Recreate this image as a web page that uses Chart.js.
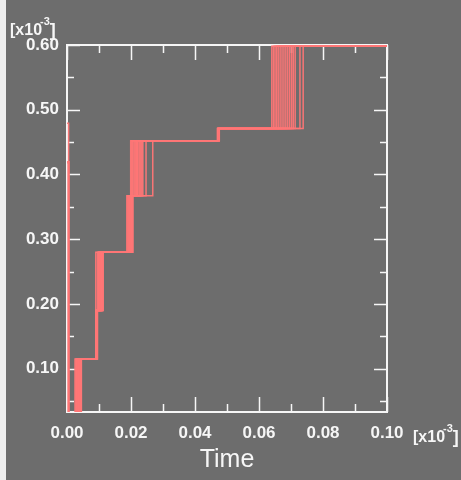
<!DOCTYPE html>
<html>
<head>
<meta charset="utf-8">
<script src="https://cdn.jsdelivr.net/npm/chart.js@4/dist/chart.umd.min.js"></script>
<style>
  html, body { margin: 0; padding: 0; background: #6d6d6d; }
  #wrap { width: 461px; height: 480px; position: relative; }
</style>
</head>
<body>
<div id="wrap"><canvas id="myChart"></canvas></div>
<script>
// step levels (x1e-3) and the times each trace steps up to the next level
let levels = [0.02, 0.115, 0.19, 0.28, 0.367, 0.452, 0.471, 0.598];
let jumpTimes = [
  [0.0025, 0.0090, 0.0090, 0.0187, 0.0199, 0.0470, 0.0640],
  [0.0030, 0.0090, 0.0098, 0.0190, 0.0205, 0.0471, 0.0645],
  [0.0033, 0.0091, 0.0103, 0.0193, 0.0212, 0.0472, 0.0650],
  [0.0036, 0.0092, 0.0107, 0.0196, 0.0218, 0.0473, 0.0655],
  [0.0040, 0.0093, 0.0110, 0.0199, 0.0225, 0.0474, 0.0660],
  [0.0043, 0.0094, 0.0113, 0.0202, 0.0231, 0.0475, 0.0666],
  [0.0045, 0.0095, 0.0111, 0.0205, 0.0237, 0.0476, 0.0672],
  [0.0028, 0.0090, 0.0095, 0.0200, 0.0247, 0.0472, 0.0678],
  [0.0038, 0.0092, 0.0100, 0.0195, 0.0268, 0.0474, 0.0684],
  [0.0042, 0.0093, 0.0105, 0.0206, 0.0215, 0.0471, 0.0690],
  [0.0035, 0.0091, 0.0108, 0.0198, 0.0228, 0.0473, 0.0696],
  [0.0031, 0.0094, 0.0102, 0.0203, 0.0221, 0.0475, 0.0702],
  [0.0034, 0.0092, 0.0106, 0.0201, 0.0209, 0.0472, 0.0707],
  [0.0039, 0.0093, 0.0109, 0.0204, 0.0234, 0.0474, 0.0713],
  [0.0044, 0.0095, 0.0112, 0.0192, 0.0202, 0.0473, 0.0728],
  [0.0029, 0.0091, 0.0099, 0.0197, 0.0219, 0.0475, 0.0738]
];
// short spikes at t = 0
let spikeTops = [0.479, 0.419];
let spikeEnd = 0.0005;

let xTicks = { min: 0, max: 0.10, step: 0.01 };
let yTicks = { min: 0.033, max: 0.60, step: 0.05 };

const bg = '#6d6d6d';
const lineColor = 'rgba(255, 118, 118, 0.95)';
const white = '#f6f6f6';

function stepData(times) {
  let pts = [{ x: 0, y: levels[0] }];
  times.forEach((t, i) => pts.push({ x: t, y: levels[i + 1] }));
  pts.push({ x: xTicks.max, y: levels[levels.length - 1] });
  return pts;
}

let datasets = jumpTimes.map(times => ({
  data: stepData(times),
  borderColor: lineColor,
  borderWidth: 1.5,
  pointRadius: 0,
  stepped: 'before'
}));
spikeTops.forEach((top, i) => datasets.push({
  data: [{ x: 0, y: top }, { x: spikeEnd, y: levels[0] }],
  borderColor: lineColor,
  borderWidth: i === 0 ? 1.5 : 2.5,
  pointRadius: 0,
  stepped: 'before'
}));

function drawUnit(ctx, x, base) {
  ctx.fillStyle = white;
  ctx.textBaseline = 'alphabetic';
  ctx.textAlign = 'left';
  ctx.font = 'bold 16px "Liberation Sans", Arial, sans-serif';
  ctx.fillText('[x10', x, base);
  let w = ctx.measureText('[x10').width;
  ctx.font = 'bold 11px "Liberation Sans", Arial, sans-serif';
  ctx.fillText('-3', w + x - 2, base - 10);
  let w2 = ctx.measureText('-3').width;
  ctx.font = 'bold 18px "Liberation Sans", Arial, sans-serif';
  ctx.fillText(']', x + w + w2 - 2, base + 1);
}

const frame = {
  id: 'frame',
  beforeDraw(chart) {
    const ctx = chart.ctx;
    ctx.save();
    ctx.fillStyle = '#eeeeee';
    ctx.fillRect(0, 0, chart.width, chart.height);
    ctx.fillStyle = bg;
    ctx.fillRect(6, 0, chart.width - 6, chart.height);
    ctx.restore();
  },
  beforeDatasetsDraw(chart) {
    const { ctx, chartArea: a, scales: { x, y } } = chart;
    ctx.save();
    ctx.strokeStyle = white;
    ctx.lineWidth = 2;
    ctx.strokeRect(a.left, a.top, a.right - a.left, a.bottom - a.top);
    ctx.lineWidth = 1.5;
    ctx.beginPath();
    x.ticks.forEach(t => {
      const px = Math.round(x.getPixelForValue(t.value)) + 0.5;
      const len = t.label ? 15 : 8;
      ctx.moveTo(px, a.bottom); ctx.lineTo(px, a.bottom - len);
      ctx.moveTo(px, a.top); ctx.lineTo(px, a.top + len);
    });
    y.ticks.forEach(t => {
      const py = Math.round(y.getPixelForValue(t.value)) + 0.5;
      const len = t.label ? 13 : 7;
      ctx.moveTo(a.left, py); ctx.lineTo(a.left + len, py);
      ctx.moveTo(a.right, py); ctx.lineTo(a.right - len, py);
    });
    ctx.stroke();
    ctx.restore();
  },
  afterDraw(chart) {
    const ctx = chart.ctx;
    ctx.save();
    drawUnit(ctx, 10, 35);
    drawUnit(ctx, 413, 442);
    ctx.restore();
  }
};

function createChart() {
  const ctx = document.getElementById('myChart').getContext('2d');
  new Chart(ctx, {
    type: 'line',
    data: { datasets: datasets },
    plugins: [frame],
    options: {
      responsive: true,
      maintainAspectRatio: false,
      animation: false,
      layout: { padding: { left: 0, right: 74, top: 45, bottom: 5 } },
      plugins: { legend: { display: false }, tooltip: { enabled: false } },
      scales: {
        x: {
          type: 'linear',
          min: xTicks.min,
          max: xTicks.max,
          afterFit: s => { s.height = 63; },
          grid: { display: false, drawTicks: false },
          border: { display: false },
          ticks: {
            stepSize: xTicks.step,
            padding: 11,
            maxRotation: 0,
            autoSkip: false,
            color: white,
            font: { family: '"Liberation Sans", Arial, sans-serif', size: 17, weight: 'bold' },
            callback: v => Math.round(v * 100) % 2 === 0 ? v.toFixed(2) : ''
          },
          title: {
            display: true,
            text: 'Time',
            color: white,
            padding: 0,
            font: { family: '"Liberation Sans", Arial, sans-serif', size: 25 }
          }
        },
        y: {
          type: 'linear',
          min: yTicks.min,
          max: yTicks.max,
          afterFit: s => { s.width = 67; },
          grid: { display: false, drawTicks: false },
          border: { display: false },
          ticks: {
            stepSize: yTicks.step,
            includeBounds: false,
            padding: 8,
            autoSkip: false,
            color: white,
            font: { family: '"Liberation Sans", Arial, sans-serif', size: 17, weight: 'bold' },
            callback: v => Math.round(v * 100) % 10 === 0 ? v.toFixed(2) : ''
          }
        }
      }
    }
  });
}

window.onload = createChart;
</script>
</body>
</html>
